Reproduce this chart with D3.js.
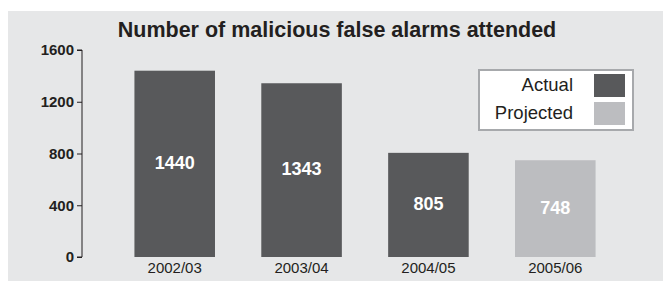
<!DOCTYPE html>
<html>
<head>
<meta charset="utf-8">
<script src="https://cdn.jsdelivr.net/npm/d3@7"></script>
<style>
  body { margin: 0; background: #fff; }
  svg { display: block; font-family: "Liberation Sans", Arial, sans-serif; }
</style>
</head>
<body>
<div class="chart"></div>
<script>
const years = ['2002/03', '2003/04', '2004/05', '2005/06'];
const alarms = [1440, 1343, 805, 748];
const kinds = ['Actual', 'Actual', 'Actual', 'Projected'];
const yTicks = [0, 400, 800, 1200, 1600];

const colors = { Actual: '#58595b', Projected: '#bcbdc0' };

const width = 663, height = 281;

const svg = d3.select('.chart').append('svg')
    .attr('width', width)
    .attr('height', height);

// grey panel
svg.append('rect')
    .attr('x', 8).attr('y', 11)
    .attr('width', width - 8).attr('height', height - 11)
    .attr('fill', '#e6e7e8');

const x = d3.scaleBand()
    .domain(years)
    .range([71, 659])
    .paddingInner(0.365)
    .paddingOuter(0.5);

const y = d3.scaleLinear()
    .domain([0, 1600])
    .range([257, 50]);

svg.append('text')
    .attr('x', 337).attr('y', 37)
    .attr('text-anchor', 'middle')
    .attr('font-size', 21.5)
    .attr('font-weight', 'bold')
    .attr('fill', '#231f20')
    .text('Number of malicious false alarms attended');

const yAxis = svg.append('g')
    .attr('transform', 'translate(82,0)')
    .call(d3.axisLeft(y).tickValues(yTicks).tickSize(5).tickPadding(3).tickFormat(d3.format('d')));
yAxis.select('.domain').attr('stroke', '#231f20').attr('d', 'M-5,' + y(1600) + 'H0V' + y(0) + 'H-5');
yAxis.selectAll('.tick line').attr('stroke', '#231f20');
yAxis.selectAll('.tick text')
    .attr('font-size', 15)
    .attr('font-weight', 'bold')
    .attr('font-family', '"Liberation Sans", Arial, sans-serif')
    .attr('fill', '#231f20');

const data = years.map((yr, i) => ({ year: yr, value: alarms[i], kind: kinds[i] }));

svg.append('g').selectAll('rect')
    .data(data)
    .enter().append('rect')
    .attr('x', d => x(d.year))
    .attr('y', d => y(d.value))
    .attr('width', x.bandwidth())
    .attr('height', d => y(0) - y(d.value))
    .attr('fill', d => colors[d.kind]);

svg.append('g').selectAll('text')
    .data(data)
    .enter().append('text')
    .attr('x', d => x(d.year) + x.bandwidth() / 2)
    .attr('y', d => (y(d.value) + y(0)) / 2 - 1)
    .attr('dy', '0.35em')
    .attr('text-anchor', 'middle')
    .attr('font-size', 18)
    .attr('font-weight', 'bold')
    .attr('fill', '#fff')
    .text(d => d.value);

svg.append('g').selectAll('text')
    .data(data)
    .enter().append('text')
    .attr('x', d => x(d.year) + x.bandwidth() / 2)
    .attr('y', 272.5)
    .attr('text-anchor', 'middle')
    .attr('font-size', 15)
    .attr('fill', '#231f20')
    .text(d => d.year);

// legend
const legendKinds = ['Actual', 'Projected'];
const legend = svg.append('g');
legend.append('rect')
    .attr('x', 479).attr('y', 70)
    .attr('width', 154).attr('height', 60)
    .attr('fill', '#fff')
    .attr('stroke', '#a7a9ac')
    .attr('stroke-width', 2);
legendKinds.forEach((k, i) => {
    legend.append('rect')
        .attr('x', 594).attr('y', 74 + i * 28)
        .attr('width', 31).attr('height', 23)
        .attr('fill', colors[k]);
    legend.append('text')
        .attr('x', 573).attr('y', 90.5 + i * 28)
        .attr('text-anchor', 'end')
        .attr('font-size', 18.5)
        .attr('fill', '#231f20')
        .text(k);
});
</script>
</body>
</html>
